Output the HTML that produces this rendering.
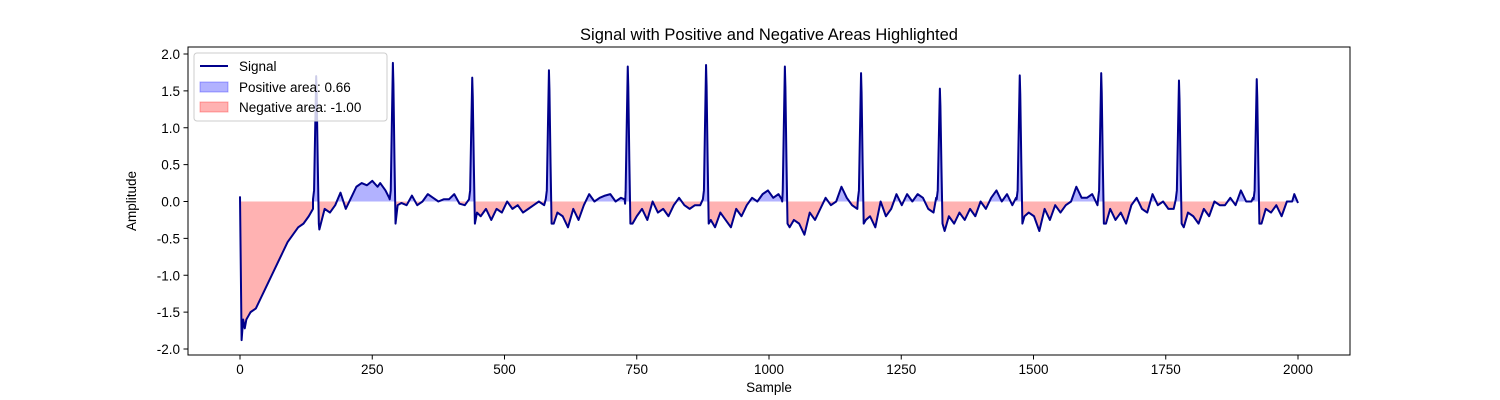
<!DOCTYPE html>
<html><head><meta charset="utf-8"><style>
html,body{margin:0;padding:0;background:#fff}
svg{display:block;font-family:"Liberation Sans","DejaVu Sans",sans-serif}
</style></head><body>
<svg id="chart" width="1500" height="400" viewBox="0 0 1500 400">
<rect x="0" y="0" width="1500" height="400" fill="#fff"/>
<defs>
<clipPath id="clipPos"><rect id="cpPos" x="188" y="47" width="1162" height="0"/></clipPath>
<clipPath id="clipNeg"><rect id="cpNeg" x="188" y="0" width="1162" height="0"/></clipPath>
</defs>
<g id="fills"></g>
<g id="line"></g>
<rect x="188" y="47" width="1162" height="308" fill="none" stroke="#000" stroke-width="1"/>
<g id="xticks"></g>
<g id="yticks"></g>
<text x="769" y="40" text-anchor="middle" font-size="16.5">Signal with Positive and Negative Areas Highlighted</text>
<text x="769" y="392" text-anchor="middle" font-size="13.5">Sample</text>
<text x="136" y="201" text-anchor="middle" font-size="13.5" transform="rotate(-90 136 201)">Amplitude</text>
<g>
<rect x="194" y="53" width="193" height="68" rx="3" fill="#fff" fill-opacity="0.8" stroke="#ccc"/>
<g>
<line x1="200" y1="66" x2="228" y2="66" stroke="#00008b" stroke-width="2"/>
<text x="239" y="71" font-size="13.5">Signal</text></g>
<g>
<rect x="200" y="82" width="28" height="10" fill="#0000ff" fill-opacity="0.3" stroke="#0000ff" stroke-opacity="0.3"/>
<text x="239" y="92" font-size="13.5">Positive area: 0.66</text></g>
<g>
<rect x="200" y="102" width="28" height="10" fill="#ff0000" fill-opacity="0.3" stroke="#ff0000" stroke-opacity="0.3"/>
<text x="239" y="112" font-size="13.5">Negative area: -1.00</text></g>
</g>
</svg>
<script>
// baseline samples / values
const baseSamples=[0,3,6,9,12,16,20,30,40,50,60,70,80,90,100,110,120,130,138,
150,160,170,180,190,200,210,220,230,240,250,260,265,275,282,
298,305,315,325,335,345,355,365,375,385,395,405,415,425,432,
448,455,465,475,485,495,505,515,525,535,545,555,565,575,
593,600,610,620,630,640,650,660,670,680,690,700,710,720,728,
742,750,760,770,780,790,800,810,820,830,840,850,860,870,
890,898,908,918,928,938,948,958,968,978,988,998,1008,1018,1025,
1039,1047,1057,1067,1077,1087,1097,1107,1117,1127,1137,1147,1157,1167,
1183,1191,1201,1211,1221,1231,1241,1251,1261,1271,1281,1291,1301,1311,1316,
1332,1340,1350,1360,1370,1380,1390,1400,1410,1420,1430,1440,1450,1460,1467,
1483,1491,1501,1511,1521,1531,1541,1551,1561,1571,1581,1591,1601,1611,1621,
1637,1645,1655,1665,1675,1685,1695,1705,1715,1725,1735,1745,1755,1765,
1784,1792,1802,1812,1822,1832,1842,1852,1862,1872,1882,1892,1902,1912,1915,
1931,1939,1949,1959,1969,1979,1989,1993,2000];
const baseValues=[0.07,-1.88,-1.6,-1.72,-1.6,-1.55,-1.5,-1.45,-1.3,-1.15,-1.0,-0.85,-0.7,-0.55,-0.45,-0.35,-0.3,-0.2,-0.1,
-0.38,-0.1,-0.15,-0.05,0.12,-0.1,0.05,0.2,0.25,0.22,0.28,0.2,0.25,0.15,0.05,
-0.05,-0.02,-0.05,0.08,-0.05,0.0,0.1,0.05,0.0,0.03,0.03,0.1,-0.03,-0.05,0.02,
-0.15,-0.2,-0.1,-0.25,-0.1,-0.15,0.0,-0.1,-0.05,-0.15,-0.1,-0.05,0.0,-0.05,
-0.3,-0.15,-0.2,-0.35,-0.1,-0.25,-0.05,0.1,0.0,0.05,0.08,0.1,0.0,0.05,-0.03,
-0.3,-0.2,-0.1,-0.25,0.0,-0.15,-0.1,-0.2,-0.05,0.05,-0.05,-0.1,-0.05,-0.05,
-0.25,-0.35,-0.15,-0.25,-0.35,-0.1,-0.2,-0.05,0.05,0.0,0.1,0.15,0.05,0.1,0.0,
-0.35,-0.25,-0.3,-0.45,-0.15,-0.25,-0.1,0.05,-0.05,0.0,0.2,0.05,-0.05,-0.1,
-0.25,-0.2,-0.35,0.0,-0.2,-0.1,0.1,-0.05,0.1,0.0,0.1,0.05,-0.1,-0.15,0.05,
-0.4,-0.2,-0.3,-0.15,-0.25,-0.1,-0.2,0.0,-0.1,0.05,0.15,0.0,0.1,-0.05,0.05,
-0.2,-0.15,-0.2,-0.4,-0.1,-0.25,-0.05,-0.15,-0.05,0.0,0.2,0.05,0.05,0.1,-0.05,
-0.3,-0.1,-0.25,-0.15,-0.3,-0.05,0.05,-0.1,-0.15,0.1,-0.05,0.0,-0.1,-0.1,
-0.35,-0.15,-0.2,-0.3,-0.1,-0.2,0.0,-0.05,-0.05,0.05,-0.05,0.15,0.0,0.0,0.05,
-0.3,-0.1,-0.15,-0.05,-0.2,0.0,0.0,0.1,-0.02];
// R-peak samples / values
const peakSamples=[144,289,439,584,733,881,1030,1174,1323,1474,1628,1775,1922];
const peakValues=[1.70,1.88,1.68,1.78,1.83,1.85,1.83,1.74,1.53,1.71,1.74,1.64,1.66];
const xTicks=[0,250,500,750,1000,1250,1500,1750,2000];
const yTicks=[-2.0,-1.5,-1.0,-0.5,0.0,0.5,1.0,1.5,2.0];

const X=s=>240+s*(1298-240)/2000;
const Y=v=>201.5-v*73.75;
const NS="http://www.w3.org/2000/svg";
function mk(t,a,p){const e=document.createElementNS(NS,t);for(const k in a)e.setAttribute(k,a[k]);p.appendChild(e);return e;}

let pts=baseSamples.map((s,i)=>[s,baseValues[i]]);
peakSamples.forEach((p,i)=>{
  const pv=peakValues[i];
  pts.push([p-6,0.03],[p-4,0.15],[p-2,pv*0.55],[p,pv],[p+1,pv*0.85],[p+3,pv*0.3],[p+5,-0.3]);
});
pts.sort((a,b)=>a[0]-b[0]);

const d=pts.map((p,i)=>(i?'L':'M')+X(p[0]).toFixed(2)+','+Y(p[1]).toFixed(2)).join('');
const area=d+'L'+X(pts[pts.length-1][0])+','+Y(0)+'L'+X(pts[0][0])+','+Y(0)+'Z';
document.getElementById('cpPos').setAttribute('height',Y(0)-47);
document.getElementById('cpNeg').setAttribute('y',Y(0));
document.getElementById('cpNeg').setAttribute('height',355-Y(0));
const fills=document.getElementById('fills');
const pa=mk('path',{d:area,fill:'#0000ff','fill-opacity':0.3,'clip-path':'url(#clipPos)'},fills);


const na=mk('path',{d:area,fill:'#ff0000','fill-opacity':0.3,'clip-path':'url(#clipNeg)'},fills);


const ln=mk('path',{d:d,fill:'none',stroke:'#00008b','stroke-width':2,'stroke-linejoin':'round'},document.getElementById('line'));



const xg=document.getElementById('xticks');
xTicks.forEach(t=>{
  const x=X(t);
  mk('line',{x1:x,y1:355,x2:x,y2:359.5,stroke:'#000'},xg);
  const tx=mk('text',{x:x,y:374,'text-anchor':'middle','font-size':13.5},xg);
  tx.textContent=t;
  
  
});
const yg=document.getElementById('yticks');
yTicks.forEach(t=>{
  const y=Y(t);
  mk('line',{x1:183.5,y1:y,x2:188,y2:y,stroke:'#000'},yg);
  const tx=mk('text',{x:180,y:y+5,'text-anchor':'end','font-size':13.5},yg);
  tx.textContent=t.toFixed(1);
  
  
});
</script>
</body></html>
